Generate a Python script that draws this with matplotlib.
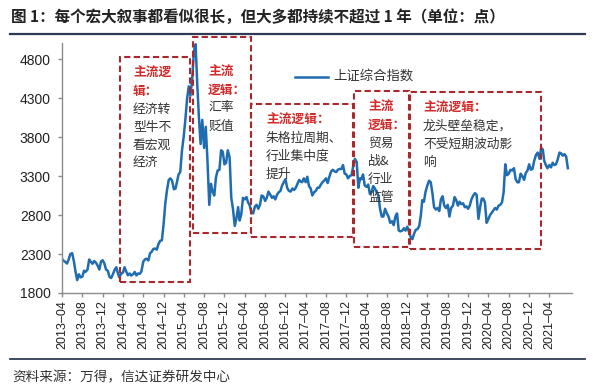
import matplotlib
matplotlib.use('Agg')
import matplotlib.pyplot as plt
import matplotlib.dates as mdates
from matplotlib.patches import Rectangle
import pandas as pd

plt.rcParams['font.family'] = ['Noto Sans CJK SC', 'DejaVu Sans']

# ---------------- data (3 readings per month: day 1, 11, 21) ----------------
series_name = '上证综合指数'
values_2013 = [2237, 2212, 2198, 2178, 2230, 2300, 2310, 2210, 2075,
               1965, 2040, 2000, 2010, 2085, 2072, 2100, 2230, 2200,
               2175, 2210, 2190, 2150, 2100, 2205, 2220, 2180, 2100]
values_2014 = [2085, 2005, 1992, 2045, 2100, 2130, 2060, 2000, 2047,
               2060, 2130, 2075, 2028, 2050, 2024, 2040, 2070, 2025,
               2050, 2046, 2075, 2200, 2230, 2240, 2217, 2310, 2330,
               2365, 2370, 2355, 2430, 2470, 2475, 2680, 2940, 3110]
values_2015 = [3250, 3270, 3240, 3130, 3140, 3240, 3320, 3350, 3620,
               3810, 4030, 4290, 4450, 4330, 4530, 4900, 4990, 4480,
               4050, 3710, 4020, 3660, 3930, 3510, 2930, 3200, 3100,
               3050, 3280, 3370, 3380, 3630, 3610, 3450, 3470, 3630]
values_2016 = [3540, 3020, 2880, 2660, 2760, 2900, 2730, 2810, 3020,
               3000, 3030, 2960, 2920, 2830, 2820, 2910, 2930, 2880,
               2930, 3050, 3040, 2980, 3020, 3100, 3060, 3020, 3040,
               3000, 3060, 3090, 3110, 3180, 3220, 3260, 3150, 3110]
values_2017 = [3100, 3140, 3120, 3150, 3200, 3250, 3230, 3220, 3270,
               3220, 3290, 3170, 3140, 3050, 3090, 3110, 3150, 3150,
               3190, 3220, 3240, 3270, 3210, 3290, 3360, 3380, 3360,
               3350, 3380, 3390, 3390, 3440, 3330, 3320, 3270, 3300]
values_2018 = [3310, 3425, 3520, 3480, 3150, 3270, 3260, 3320, 3180,
               3160, 3190, 3070, 3090, 3170, 3140, 3090, 3050, 2880,
               2780, 2780, 2880, 2820, 2780, 2700, 2720, 2670, 2780,
               2820, 2600, 2590, 2600, 2630, 2600, 2650, 2590, 2520]
values_2019 = [2490, 2560, 2610, 2620, 2660, 2800, 2990, 2970, 3100,
               3180, 3240, 3220, 3080, 2900, 2870, 2890, 2850, 3000,
               3040, 2920, 2890, 2930, 2780, 2890, 2920, 3030, 2990,
               2920, 2970, 2940, 2950, 2900, 2910, 2880, 2920, 3000]
values_2020 = [3050, 3080, 3060, 2750, 2900, 3010, 3010, 2960, 2700,
               2750, 2800, 2830, 2860, 2890, 2870, 2920, 2930, 2960,
               3090, 3450, 3310, 3330, 3380, 3370, 3400, 3260, 3220,
               3220, 3330, 3300, 3250, 3340, 3370, 3450, 3380, 3390]
values_2021 = [3500, 3570, 3600, 3520, 3660, 3640, 3500, 3440, 3400,
               3440, 3410, 3470, 3440, 3450, 3510, 3600, 3590, 3560,
               3580, 3550, 3400]

values = (values_2013 + values_2014 + values_2015 + values_2016 + values_2017
          + values_2018 + values_2019 + values_2020 + values_2021)
months = pd.date_range('2013-04-01', periods=len(values) // 3, freq='MS')
dates = [m + pd.Timedelta(days=d) for m in months for d in (0, 10, 20)]

# narrative periods: (start, end, low, high)
period_starts = ['2014-03-13', '2015-05-25', '2016-05-07', '2018-01-13', '2018-12-18']
period_ends = ['2015-05-07', '2016-05-07', '2018-01-10', '2018-12-12', '2021-02-12']
period_lows = [1940, 2570, 2520, 2390, 2360]
period_highs = [4826, 5080, 4220, 4390, 4380]

period_heads = [['主流逻', '辑：'], ['主流', '逻辑：'], ['主流逻辑：'],
                ['主流', '逻辑：'], ['主流逻辑：']]
period_texts = [['经济转', '型牛不', '看宏观', '经济'],
                ['汇率', '贬值'],
                ['朱格拉周期、', '行业集中度', '提升'],
                ['贸易', '战&', '行业', '监管'],
                ['龙头壁垒稳定，', '不受短期波动影', '响']]

yticks = [1800, 2300, 2800, 3300, 3800, 4300, 4800]
xtick_dates = pd.date_range('2013-04-01', '2021-04-01', freq='4MS')

title = '图 1：每个宏大叙事都看似很长，但大多都持续不超过 1 年（单位：点）'
source = '资料来源：万得，信达证券研发中心'

# ---------------- figure ----------------
W, H = 593, 387
fig = plt.figure(figsize=(W / 100, H / 100), dpi=100)
fig.patch.set_facecolor('white')

def px(x, y):
    return x / W, 1 - y / H

ax_l, ax_r, ax_t, ax_b = 62, 572, 43.4, 293
ax = fig.add_axes([ax_l / W, 1 - ax_b / H, (ax_r - ax_l) / W, (ax_b - ax_t) / H])

line_color = '#1F6DB0'
ax.plot(dates, values, color=line_color, lw=1.8, solid_joinstyle='round')

ax.set_ylim(1800, 5000)
ax.set_xlim(pd.Timestamp('2013-04-01'), pd.Timestamp('2021-08-15'))
ax.set_yticks(yticks)
ax.set_xticks(xtick_dates)
ax.set_xticklabels([d.strftime('%Y–%m') for d in xtick_dates], rotation=90,
                   fontfamily='Liberation Sans', fontsize=9, color='#222222')
ax.set_yticklabels([str(v) for v in yticks], fontfamily='Liberation Sans',
                   fontsize=10, color='#222222')
for s in ['top', 'right']:
    ax.spines[s].set_visible(False)
for s in ['left', 'bottom']:
    ax.spines[s].set_color('#8C8C8C')
    ax.spines[s].set_linewidth(1.0)
ax.tick_params(axis='x', direction='out', length=3, width=1, color='#8C8C8C', pad=2)
ax.tick_params(axis='y', direction='out', length=3, width=1, color='#8C8C8C', pad=5)

box_color = '#A8282E'
for s, e, lo, hi in zip(period_starts, period_ends, period_lows, period_highs):
    x0 = mdates.date2num(pd.Timestamp(s))
    x1 = mdates.date2num(pd.Timestamp(e))
    r = Rectangle((x0, lo), x1 - x0, hi - lo, fill=False, edgecolor=box_color,
                  lw=1.5, linestyle=(0, (3, 1.6)), clip_on=False, zorder=3)
    ax.add_patch(r)

# annotation text inside boxes
anchors = [(133, 73), (208, 72), (266, 120), (368, 107), (423, 108)]
pitch = 18
for (x, y), heads, texts in zip(anchors, period_heads, period_texts):
    k = 0
    for h in heads:
        fig.text(*px(x, y + k * pitch), h, color='#D42A2A', fontsize=9.2,
                 fontweight='bold', ha='left', va='center')
        k += 1
    for t in texts:
        fig.text(*px(x, y + k * pitch), t, color='#333333', fontsize=9.2,
                 ha='left', va='center')
        k += 1

# legend
fig.add_artist(plt.Line2D([295 / W, 328 / W], [1 - 77 / H, 1 - 77 / H],
                          color=line_color, lw=1.8))
fig.text(*px(333, 77), series_name, fontsize=9.6, color='#333333', ha='left', va='center')

# title and rules
fig.text(*px(11, 17), title, fontsize=11.2, fontweight='bold', color='#222222',
         ha='left', va='center')
rule_color = '#2E3B55'
fig.add_artist(plt.Line2D([10 / W, 585 / W], [1 - 34 / H, 1 - 34 / H], color=rule_color, lw=1.6))
fig.add_artist(plt.Line2D([10 / W, 585 / W], [1 - 359 / H, 1 - 359 / H], color=rule_color, lw=1.3))
fig.text(*px(12, 377), source, fontsize=9.8, color='#333333', ha='left', va='center',
         style='italic')

fig.savefig('out.png', dpi=100)
